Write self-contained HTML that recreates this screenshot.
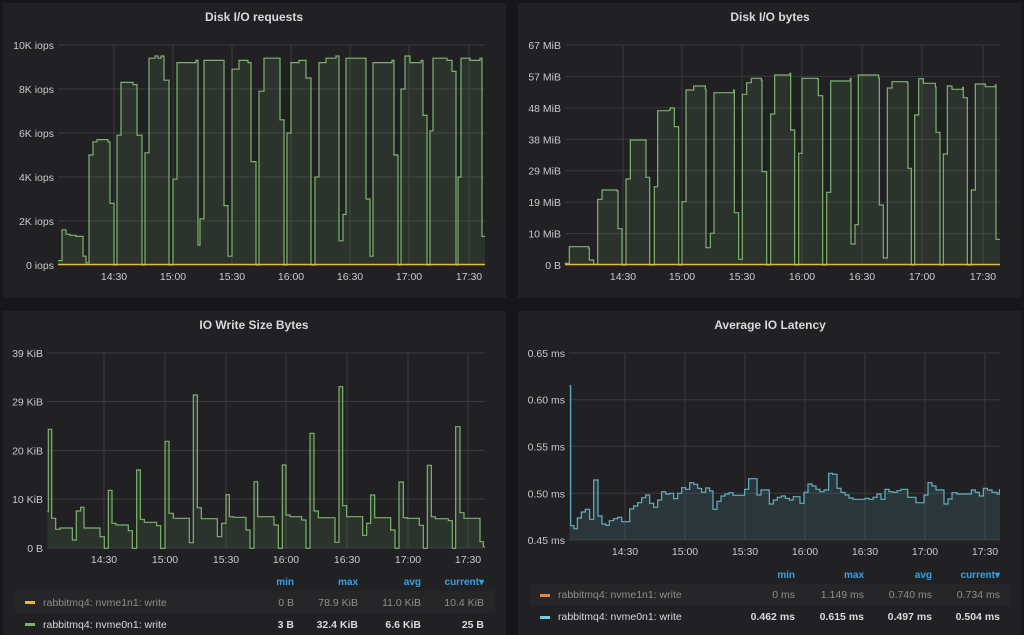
<!DOCTYPE html>
<html><head><meta charset="utf-8"><style>
html,body{margin:0;padding:0;background:#161719;width:1024px;height:635px;overflow:hidden}
svg{display:block}
text{font-family:"Liberation Sans",sans-serif}
</style></head><body>
<svg id="s" width="1024" height="635" xmlns="http://www.w3.org/2000/svg">
<rect x="0" y="0" width="1024" height="635" fill="#161719"/>
<rect x="3" y="3" width="503" height="295" fill="#212124"/>
<rect x="518" y="3" width="503" height="295" fill="#212124"/>
<rect x="3" y="311" width="503" height="324" fill="#212124"/>
<rect x="518" y="311" width="503" height="324" fill="#212124"/>
<g font-size="12" font-weight="bold" fill="#d8d9da" text-anchor="middle">
<text x="254" y="21">Disk I/O requests</text>
<text x="770" y="21">Disk I/O bytes</text>
<text x="254" y="329">IO Write Size Bytes</text>
<text x="770" y="329">Average IO Latency</text>
</g>
<g id="g"></g>
<!-- legends -->
<g font-size="10" font-weight="bold" fill="#33a2e5" text-anchor="end">
<text x="294" y="585">min</text><text x="358" y="585">max</text><text x="421" y="585">avg</text><text x="484" y="585">current▾</text>
<text x="795" y="578">min</text><text x="864" y="578">max</text><text x="932" y="578">avg</text><text x="1000" y="578">current▾</text>
</g>
<rect x="15" y="591" width="480" height="22" fill="#262628"/>
<rect x="530" y="584" width="480" height="21" fill="#262628"/>
<rect x="25" y="601" width="10" height="3" fill="#eab839"/>
<rect x="25" y="623" width="10" height="3" fill="#7eb26d"/>
<rect x="540" y="594" width="10" height="3" fill="#ef843c"/>
<rect x="540" y="616" width="10" height="3" fill="#6ed0e0"/>
<g font-size="10.5">
<text x="43" y="606" fill="#8e8e8e">rabbitmq4: nvme1n1: write</text>
<text x="43" y="628" fill="#d8d9da">rabbitmq4: nvme0n1: write</text>
<text x="558" y="598" fill="#8e8e8e">rabbitmq4: nvme1n1: write</text>
<text x="558" y="620" fill="#d8d9da">rabbitmq4: nvme0n1: write</text>
</g>
<g font-size="10.5" text-anchor="end">
<g fill="#8e8e8e"><text x="294" y="606">0 B</text><text x="358" y="606">78.9 KiB</text><text x="421" y="606">11.0 KiB</text><text x="484" y="606">10.4 KiB</text>
<text x="795" y="598">0 ms</text><text x="864" y="598">1.149 ms</text><text x="932" y="598">0.740 ms</text><text x="1000" y="598">0.734 ms</text></g>
<g fill="#d8d9da" font-weight="bold"><text x="294" y="628">3 B</text><text x="358" y="628">32.4 KiB</text><text x="421" y="628">6.6 KiB</text><text x="484" y="628">25 B</text>
<text x="795" y="620">0.462 ms</text><text x="864" y="620">0.615 ms</text><text x="932" y="620">0.497 ms</text><text x="1000" y="620">0.504 ms</text></g>
</g>
</svg>
<script>
var NS="http://www.w3.org/2000/svg",G=document.getElementById("g");
function el(t,a,txt){var e=document.createElementNS(NS,t);for(var k in a)e.setAttribute(k,a[k]);if(txt!=null)e.textContent=txt;G.appendChild(e);return e;}
function panel(o){
 // horizontal grid + y labels
 o.yl.forEach(function(l){el("line",{x1:o.x0,x2:o.x1,y1:l[1],y2:l[1],stroke:"#3a3a3d","stroke-width":1});
  el("text",{x:o.x0-4,y:l[1]+4,"font-size":"10.5",fill:"#c8c9ca","text-anchor":"end"},l[0]);});
 var xs=["14:30","15:00","15:30","16:00","16:30","17:00","17:30"];
 o.xt.forEach(function(x,i){el("line",{x1:x,x2:x,y1:o.yt,y2:o.yb,stroke:"#3a3a3d","stroke-width":1});
  el("text",{x:x,y:o.yb+15,"font-size":"10.5",fill:"#c8c9ca","text-anchor":"middle"},xs[i]);});
 // series step
 var p=o.pts,d="M"+p[0][0]+" "+p[0][1];
 for(var i=1;i<p.length;i++){d+=" H"+p[i][0]+" V"+p[i][1];}
 d+=" H"+o.x1;
 el("path",{d:d+" V"+o.yb+" H"+p[0][0]+" Z",fill:o.fill,stroke:"none"});
 el("path",{d:d,fill:"none",stroke:o.col,"stroke-width":1.2});
 if(o.base) el("line",{x1:o.x0,x2:o.x1,y1:o.yb-0.5,y2:o.yb-0.5,stroke:"#eab839","stroke-width":1.5});
}
// top-left
var tl=[[58,.2],[62,1.6],[66,1.4],[70,1.35],[76,1.3],[83,.4],[86,.1],[89,5],[93,5.6],[97,5.7],[108,5.6],[110,2.8],[114,0],[117,5.9],[121,8.3],[133,8.2],[137,5.9],[142,0],[145,5.1],[149,9.4],[155,9.5],[158,9.4],[161,9.5],[164,8.4],[169,0],[173,3.9],[177,9.2],[196,9.3],[198,.9],[200,2.1],[204,9.3],[223,9.3],[224,2.7],[228,.4],[232,8.9],[239,9.3],[248,9.2],[251,4.7],[256,0],[259,7.9],[264,9.4],[278,9.4],[280,6.6],[284,0],[287,6],[291,9.2],[299,9.3],[306,8.5],[311,0],[315,4],[319,9.2],[326,9.4],[336,9.5],[339,1.1],[343,2.3],[346,9.4],[357,9.4],[366,3],[370,.4],[373,9.2],[392,9.3],[394,5],[398,0],[401,8],[405,9.5],[410,9.2],[421,9.3],[423,6.8],[427,0],[430,6.1],[433,9.4],[447,9.3],[452,8.8],[456,0],[458,4],[461,9.4],[470,9.3],[480,9.4],[482,1.3]];
panel({x0:58,x1:485,yt:45,yb:265,yl:[["10K iops",45],["8K iops",89],["6K iops",133],["4K iops",177],["2K iops",221],["0 iops",265]],
 xt:[114,173,232,291,350,409,469],pts:tl.map(function(a){return[a[0],265-a[1]*22]}),col:"#7eb26d",fill:"rgba(126,178,109,0.12)",base:1});
// top-right
var tr=[[158,790],[172,740],[230,745],[232,780],[245,793],[257,598],[270,570],[315,573],[318,686],[330,795],[342,537],[355,420],[400,420],[402,532],[413,795],[427,560],[437,332],[472,330],[475,324],[487,380],[500,795],[510,605],[522,270],[545,258],[580,268],[582,743],[595,700],[606,278],[665,270],[667,638],[680,778],[691,283],[704,248],[718,235],[748,240],[750,515],[764,795],[776,342],[788,225],[834,220],[836,390],[848,795],[860,460],[870,235],[917,237],[919,287],[932,795],[944,577],[956,243],[1015,235],[1017,732],[1029,674],[1039,225],[1100,235],[1102,615],[1114,774],[1126,264],[1140,245],[1186,248],[1188,505],[1198,795],[1208,345],[1220,236],[1234,250],[1270,260],[1272,397],[1284,795],[1294,462],[1306,258],[1320,268],[1352,262],[1354,293],[1366,795],[1378,570],[1390,252],[1420,260],[1450,255],[1452,718]];
panel({x0:565,x1:1000,yt:45,yb:265,yl:[["67 MiB",45],["57 MiB",76.4],["48 MiB",107.9],["38 MiB",139.3],["29 MiB",170.7],["19 MiB",202.1],["10 MiB",233.6],["0 B",265]],
 xt:[623,682,742,802,862,922,983],pts:tr.map(function(a){return[512+a[0]/3,a[1]/3]}),col:"#7eb26d",fill:"rgba(126,178,109,0.12)",base:1});
// bottom-left
var bl=[[142,635],[145,388],[155,655],[167,688],[180,684],[217,720],[229,633],[242,622],[252,684],[300,710],[313,745],[325,571],[336,670],[348,675],[385,692],[397,745],[410,510],[421,658],[433,667],[470,677],[482,745],[495,424],[507,640],[520,655],[568,728],[580,285],[592,623],[604,656],[652,710],[665,670],[678,584],[688,650],[700,652],[738,690],[750,745],[762,545],[773,650],[785,650],[822,675],[835,745],[847,495],[858,645],[870,650],[905,660],[918,745],[930,400],[942,633],[955,653],[1005,727],[1017,260],[1028,617],[1040,650],[1088,706],[1100,670],[1112,585],[1124,653],[1172,690],[1185,745],[1197,546],[1210,653],[1222,655],[1258,676],[1270,745],[1282,496],[1294,650],[1306,656],[1345,662],[1357,745],[1367,380],[1380,638],[1392,655],[1440,725],[1450,740]];
panel({x0:47,x1:485,yt:353,yb:548,yl:[["39 KiB",353],["29 KiB",401.5],["20 KiB",450.5],["10 KiB",499],["0 B",548]],
 xt:[104,165,226,286,347,408,468],pts:bl.map(function(a){return[a[0]/3,300+a[1]/3]}),col:"#7eb26d",fill:"rgba(126,178,109,0.12)"});
// bottom-right
var br=[[172,258],[176,677],[186,686],[196,654],[208,636],[220,628],[233,658],[245,540],[258,648],[270,672],[282,676],[292,662],[305,656],[317,652],[329,665],[353,627],[365,618],[377,608],[389,593],[401,585],[413,610],[425,622],[437,600],[449,575],[461,582],[473,580],[485,596],[497,580],[509,563],[521,568],[533,548],[545,553],[557,565],[569,577],[581,564],[593,573],[603,628],[615,604],[627,588],[639,582],[651,578],[663,586],[698,568],[710,536],[735,585],[747,570],[772,612],[784,600],[796,592],[808,588],[820,595],[832,600],[844,590],[864,610],[876,577],[888,552],[900,558],[912,568],[924,575],[936,570],[950,520],[962,523],[975,565],[987,577],[999,585],[1011,594],[1023,598],[1059,595],[1071,598],[1083,592],[1095,582],[1107,598],[1119,568],[1131,575],[1143,577],[1155,572],[1167,568],[1187,592],[1212,608],[1236,585],[1248,548],[1260,558],[1272,570],[1296,612],[1308,597],[1320,578],[1335,582],[1378,570],[1390,577],[1402,588],[1414,565],[1426,570],[1440,577],[1455,582],[1462,570]];
panel({x0:569,x1:1000,yt:353,yb:540,yl:[["0.65 ms",353],["0.60 ms",399.7],["0.55 ms",446.3],["0.50 ms",493.3],["0.45 ms",540]],
 xt:[625,685,745,805,865,925,985],pts:br.map(function(a){return[512+a[0]/3,300+a[1]/3]}),col:"#5fb3c4",fill:"rgba(110,208,224,0.12)"});
</script>
</body></html>
